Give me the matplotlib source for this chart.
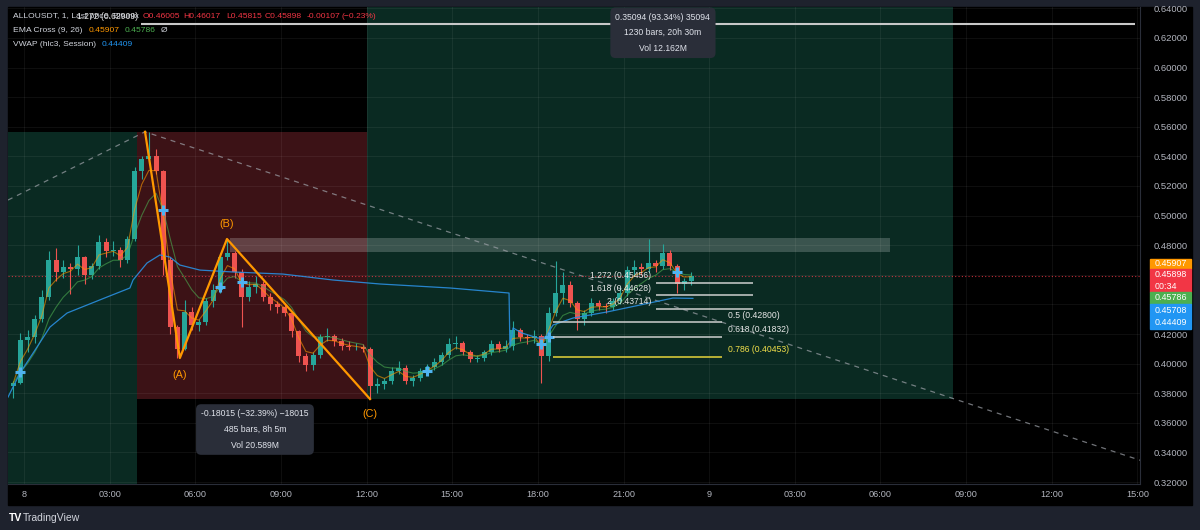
import numpy as np
import pandas as pd
import matplotlib
matplotlib.use("Agg")
import matplotlib.pyplot as plt
from matplotlib.patches import Rectangle
from matplotlib.transforms import blended_transform_factory

plt.rcParams['font.family'] = ['Liberation Sans', 'DejaVu Sans']

# ---- data: time in hours from the 8th 00:00, prices in USDT ----
bar_len = 0.25          # 15 minute bars
first_bar = -0.5
first_open = 0.3850
highs = [0.3880, 0.4207, 0.4230, 0.4330, 0.4500, 0.4760, 0.4780, 0.4700, 0.4680, 0.4800,
         0.4730, 0.4680, 0.4870, 0.4850, 0.4830, 0.4790, 0.4860, 0.5330, 0.5400, 0.5566,
         0.5450, 0.5310, 0.4720, 0.4260, 0.4430, 0.4380, 0.4300, 0.4440, 0.4540, 0.4750,
         0.4842, 0.4760, 0.4640, 0.4560, 0.4590, 0.4560, 0.4480, 0.4420, 0.4400, 0.4350,
         0.4230, 0.4070, 0.4080, 0.4200, 0.4240, 0.4200, 0.4170, 0.4150, 0.4140, 0.4130,
         0.4110, 0.3900, 0.3900, 0.3980, 0.4020, 0.3990, 0.3920, 0.3970, 0.4000, 0.4040,
         0.4080, 0.4170, 0.4190, 0.4150, 0.4090, 0.4060, 0.4090, 0.4160, 0.4150, 0.4160,
         0.4290, 0.4240, 0.4200, 0.4230, 0.4200, 0.4380, 0.4690, 0.4620, 0.4560, 0.4420,
         0.4360, 0.4440, 0.4430, 0.4410, 0.4440, 0.4520, 0.4660, 0.4700, 0.4680, 0.4840,
         0.4700, 0.4810, 0.4770, 0.4670, 0.4580, 0.4620]
lows = [0.3770, 0.3860, 0.4080, 0.4140, 0.4280, 0.4430, 0.4560, 0.4580, 0.4470, 0.4600,
        0.4540, 0.4570, 0.4640, 0.4720, 0.4730, 0.4650, 0.4680, 0.4830, 0.5250, 0.5350,
        0.5280, 0.4600, 0.4200, 0.4038, 0.4090, 0.4230, 0.4220, 0.4260, 0.4380, 0.4480,
        0.4700, 0.4580, 0.4250, 0.4420, 0.4480, 0.4420, 0.4360, 0.4340, 0.4320, 0.4180,
        0.4010, 0.3950, 0.3960, 0.4040, 0.4150, 0.4120, 0.4090, 0.4090, 0.4090, 0.4080,
        0.3761, 0.3800, 0.3830, 0.3860, 0.3930, 0.3860, 0.3850, 0.3880, 0.3930, 0.3960,
        0.3990, 0.4040, 0.4100, 0.4060, 0.4010, 0.4010, 0.4020, 0.4060, 0.4080, 0.4080,
        0.4090, 0.4150, 0.4130, 0.4140, 0.3870, 0.4020, 0.4320, 0.4400, 0.4380, 0.4230,
        0.4260, 0.4320, 0.4360, 0.4340, 0.4360, 0.4400, 0.4460, 0.4590, 0.4600, 0.4620,
        0.4620, 0.4640, 0.4630, 0.4480, 0.4500, 0.4530]
closes = [0.3870, 0.4159, 0.4180, 0.4300, 0.4450, 0.4700, 0.4620, 0.4650, 0.4640, 0.4720,
          0.4600, 0.4660, 0.4820, 0.4760, 0.4770, 0.4700, 0.4840, 0.5300, 0.5380, 0.5400,
          0.5300, 0.4700, 0.4250, 0.4100, 0.4350, 0.4260, 0.4280, 0.4420, 0.4500, 0.4720,
          0.4750, 0.4620, 0.4450, 0.4520, 0.4540, 0.4450, 0.4400, 0.4380, 0.4340, 0.4220,
          0.4050, 0.3990, 0.4060, 0.4180, 0.4190, 0.4150, 0.4120, 0.4110, 0.4110, 0.4100,
          0.3850, 0.3860, 0.3880, 0.3950, 0.3970, 0.3880, 0.3900, 0.3950, 0.3980, 0.4010,
          0.4060, 0.4130, 0.4140, 0.4080, 0.4030, 0.4040, 0.4080, 0.4130, 0.4100, 0.4120,
          0.4230, 0.4180, 0.4170, 0.4190, 0.4050, 0.4340, 0.4480, 0.4530, 0.4410, 0.4300,
          0.4340, 0.4410, 0.4390, 0.4380, 0.4420, 0.4480, 0.4630, 0.4650, 0.4640, 0.4680,
          0.4660, 0.4750, 0.4660, 0.4540, 0.4560, 0.45898]

vwap_t = [-0.56, -0.14, 0.32, 0.91, 1.51, 2.21, 2.91, 3.71, 3.82, 4.31, 4.76, 5.11, 5.46,
          6.16, 7.32, 9.07, 10.82, 12.47, 14.92, 16.99, 17.02, 17.13, 17.44, 18.0, 18.25,
          18.53, 19.23, 20.42, 21.58, 22.73, 23.43]
vwap_p = [0.3774, 0.3936, 0.4072, 0.4247, 0.4342, 0.4396, 0.4450, 0.4511, 0.4565, 0.4680,
          0.4734, 0.4720, 0.4666, 0.4632, 0.4619, 0.4605, 0.4565, 0.4538, 0.4511, 0.4477,
          0.4112, 0.4241, 0.4207, 0.4173, 0.4173, 0.4261, 0.4308, 0.4349, 0.4396, 0.4443,
          0.44409]

abc_t = [4.24, 5.46, 7.11, 12.12]
abc_p = [0.5566, 0.4038, 0.4842, 0.3761]
abc_names = ['', '(A)', '(B)', '(C)']

trend_t = [-0.56, 4.24, 39.4]
trend_p = [0.5105, 0.5566, 0.3328]

fib_up_levels = [0.45456, 0.44628, 0.43714]
fib_up_names = ['1.272', '1.618', '2']
fib_lo_levels = [0.42800, 0.41832, 0.40453]
fib_lo_names = ['0.5', '0.618', '0.786']
fib_top_level = 0.62909
fib_top_name = '1.272'

left_box = (-0.6, 3.95, 0.30, 0.5562)
short_box = (3.95, 12.03, 0.37605, 0.5562)
long_box = (12.03, 32.53, 0.37605, 0.72699)
zone = (7.2, 30.33, 0.4754, 0.4849)
last_price = 0.45898

short_stats = ['-0.18015 (\u221232.39%) \u221218015', '485 bars, 8h 5m', 'Vol 20.589M']
long_stats = ['0.35094 (93.34%) 35094', '1230 bars, 20h 30m', 'Vol 12.162M']

tick_hours = list(range(0, 40, 3))
tick_names = ['8', '03:00', '06:00', '09:00', '12:00', '15:00', '18:00', '21:00',
              '9', '03:00', '06:00', '09:00', '12:00', '15:00']
price_ticks = np.arange(0.32, 0.6401, 0.02)
hidden_ticks = [0.44, 0.46]     # covered by the price tags

# ---- figure ----
W, H = 1200, 530
def fx(px):
    return px / W
def fy(py):
    return 1 - py / H

fig = plt.figure(figsize=(12, 5.3), dpi=100, facecolor='#1e222d')
fig.add_artist(Rectangle((fx(8), fy(505)), fx(1184), 498 / H, transform=fig.transFigure,
                         color='black', zorder=-5))
ax = fig.add_axes([fx(8), fy(484), fx(1132), 477 / H])
ax.set_facecolor('black')
ax.set_xlim(-0.56, 39.09)
ax.set_ylim(0.3187, 0.6409)

green_bg = '#0a2a22'
red_bg = '#3c1216'
for (x0, x1, y0, y1), c in [(left_box, green_bg), (short_box, red_bg), (long_box, green_bg)]:
    ax.add_patch(Rectangle((x0, y0), x1 - x0, y1 - y0, color=c, lw=0, zorder=1))

for h in tick_hours:
    ax.axvline(h, color='white', alpha=0.06, lw=0.8, zorder=1.5)
for p in price_ticks:
    ax.axhline(p, color='white', alpha=0.06, lw=0.8, zorder=1.5)

ax.add_patch(Rectangle((zone[0], zone[2]), zone[1] - zone[0], zone[3] - zone[2],
                       fc='white', alpha=0.2, lw=0, zorder=2))

ax.plot(trend_t, trend_p, ls=(0, (4, 4)), color='#a0a4ab', lw=0.9, alpha=0.7, zorder=2.5)
ax.axhline(last_price, color='#f23645', ls=(0, (1, 2)), lw=0.8, alpha=0.8, zorder=2.5)

# candles
closes = np.array(closes)
highs = np.array(highs)
lows = np.array(lows)
opens = np.r_[first_open, closes[:-1]]
t = first_bar + bar_len * (np.arange(len(closes)) + 0.5)
col = np.where(closes >= opens, '#26a69a', '#ef5350')
ax.vlines(t, lows, highs, colors=col, lw=0.8, zorder=4)
ax.bar(t, np.maximum(np.abs(closes - opens), 0.0005), bottom=np.minimum(opens, closes),
       width=bar_len * 0.7, color=col, lw=0, zorder=4)

# EMA cross
s = pd.Series(closes)
ema_fast = s.ewm(span=3, adjust=False).mean().values
ema_slow = s.ewm(span=7, adjust=False).mean().values
ax.plot(t, ema_fast, color='#ff9800', lw=0.8, alpha=0.6, zorder=4.5)
ax.plot(t, ema_slow, color='#4caf50', lw=0.8, alpha=0.6, zorder=4.5)
cross = np.where(np.diff(np.sign(ema_fast - ema_slow)) != 0)[0] + 1
ax.plot(t[cross], ema_slow[cross], '+', ms=7, mew=2.2, color='#4fb3f0', zorder=5)

ax.plot(vwap_t, vwap_p, color='#2a8fe0', lw=0.9, alpha=0.9, zorder=4.6)

# fib levels
fs = 6.2
ax.hlines(fib_top_level, 4.1, 38.9, color='#c8c8c8', lw=1.5, zorder=3)
ax.annotate(f'{fib_top_name} ({fib_top_level:.5f})', (4.0, fib_top_level), xytext=(0, 6),
            textcoords='offset points', ha='right', va='center', color='#e8e8e8', fontsize=fs)
for lv, nm in zip(fib_up_levels, fib_up_names):
    ax.hlines(lv, 22.14, 25.53, color='#cfcfcf', lw=1.1, zorder=6)
    ax.annotate(f'{nm} ({lv:.5f})', (21.96, lv), xytext=(0, 5), textcoords='offset points',
                ha='right', va='center', color='#e8e8e8', fontsize=fs, zorder=7)
for lv, nm in zip(fib_lo_levels, fib_lo_names):
    c = '#e6d43a' if nm == '0.786' else '#cfcfcf'
    tc = '#f2e04a' if nm == '0.786' else '#e8e8e8'
    ax.hlines(lv, 18.53, 24.45, color=c, lw=1.1, zorder=6)
    ax.annotate(f'{nm} ({lv:.5f})', (24.66, lv), xytext=(0, 5), textcoords='offset points',
                ha='left', va='center', color=tc, fontsize=fs, zorder=7)

# ABC
ax.plot(abc_t, abc_p, color='#ff9800', lw=1.6, zorder=6)
for x, y, nm, dy in zip(abc_t, abc_p, abc_names, [0, -12, 11, -11]):
    if nm:
        ax.annotate(nm, (x, y), xytext=(0, dy), textcoords='offset points', ha='center',
                    va='center', color='#ff9800', fontsize=7.8)

# measurement labels
box = dict(boxstyle='round,pad=0.6', fc='#2a2e39', ec='none')
ax.text(8.09, 0.3555, '\n'.join(short_stats), ha='center', va='center', multialignment='center',
        color='#e0e3eb', fontsize=fs, linespacing=1.95, bbox=box, zorder=8)
bt = blended_transform_factory(ax.transData, ax.transAxes)
ax.text(22.38, 0.946, '\n'.join(long_stats), transform=bt, ha='center', va='center',
        multialignment='center', color='#e0e3eb', fontsize=fs, linespacing=1.95, bbox=box, zorder=8)

# axes
ax.yaxis.tick_right()
ax.set_yticks(price_ticks)
ax.set_yticklabels(['' if min(abs(p - hp) for hp in hidden_ticks) < 1e-6 else f'{p:.5f}'
                    for p in price_ticks])
ax.set_xticks(tick_hours)
ax.set_xticklabels(tick_names)
ax.tick_params(axis='y', length=0, pad=10, labelsize=6.8, labelcolor='#b2b5be')
ax.tick_params(axis='x', length=0, pad=4, labelsize=6.6, labelcolor='#b2b5be')
for sp in ['top', 'left']:
    ax.spines[sp].set_visible(False)
for sp in ['bottom', 'right']:
    ax.spines[sp].set_color('#2a2e39')

# price tags on the axis
tags = [(259, 269, '#ff9800', ['0.45907']),
        (269, 292, '#f23645', ['0.45898', '00:34']),
        (292, 304, '#4caf50', ['0.45786']),
        (304, 329, '#2196f3', ['0.45708', '0.44409'])]
for y0, y1, c, txts in tags:
    fig.add_artist(Rectangle((fx(1150), fy(y1)), fx(41), (y1 - y0) / H,
                             transform=fig.transFigure, color=c, zorder=5))
    step = (y1 - y0) / len(txts)
    for k, tx in enumerate(txts):
        fig.text(fx(1155), fy(y0 + step * (k + 0.5)), tx, ha='left', va='center',
                 color='white', fontsize=6.4, zorder=6)

# legend
lg = '#d1d4dc'
lfs = 6.1
fig.text(fx(13), fy(17), 'ALLOUSDT, 1, Last price, Bitunix', color=lg, fontsize=lfs, va='center')
for px, tx in [(143, 'O0.46005'), (183, 'H0.46017'), (226, 'L0.45815'), (265, 'C0.45898'),
               (307, '-0.00107'), (342, '(\u22120.23%)')]:
    fig.text(fx(px), fy(17), tx, color='#f23645', fontsize=lfs, va='center')
fig.text(fx(13), fy(31), 'EMA Cross (9, 26)', color=lg, fontsize=lfs, va='center')
fig.text(fx(89), fy(31), '0.45907', color='#ff9800', fontsize=lfs, va='center')
fig.text(fx(125), fy(31), '0.45786', color='#4caf50', fontsize=lfs, va='center')
fig.text(fx(161), fy(31), '\u00d8', color=lg, fontsize=lfs, va='center')
fig.text(fx(13), fy(44), 'VWAP (hlc3, Session)', color=lg, fontsize=lfs, va='center')
fig.text(fx(102), fy(44), '0.44409', color='#2196f3', fontsize=lfs, va='center')

fig.text(fx(9), fy(518), 'TV', color='white', fontsize=7.5, fontweight='bold', va='center')
fig.text(fx(23), fy(518), 'TradingView', color=lg, fontsize=7.5, va='center')

fig.savefig('out.png', dpi=100, facecolor=fig.get_facecolor())
